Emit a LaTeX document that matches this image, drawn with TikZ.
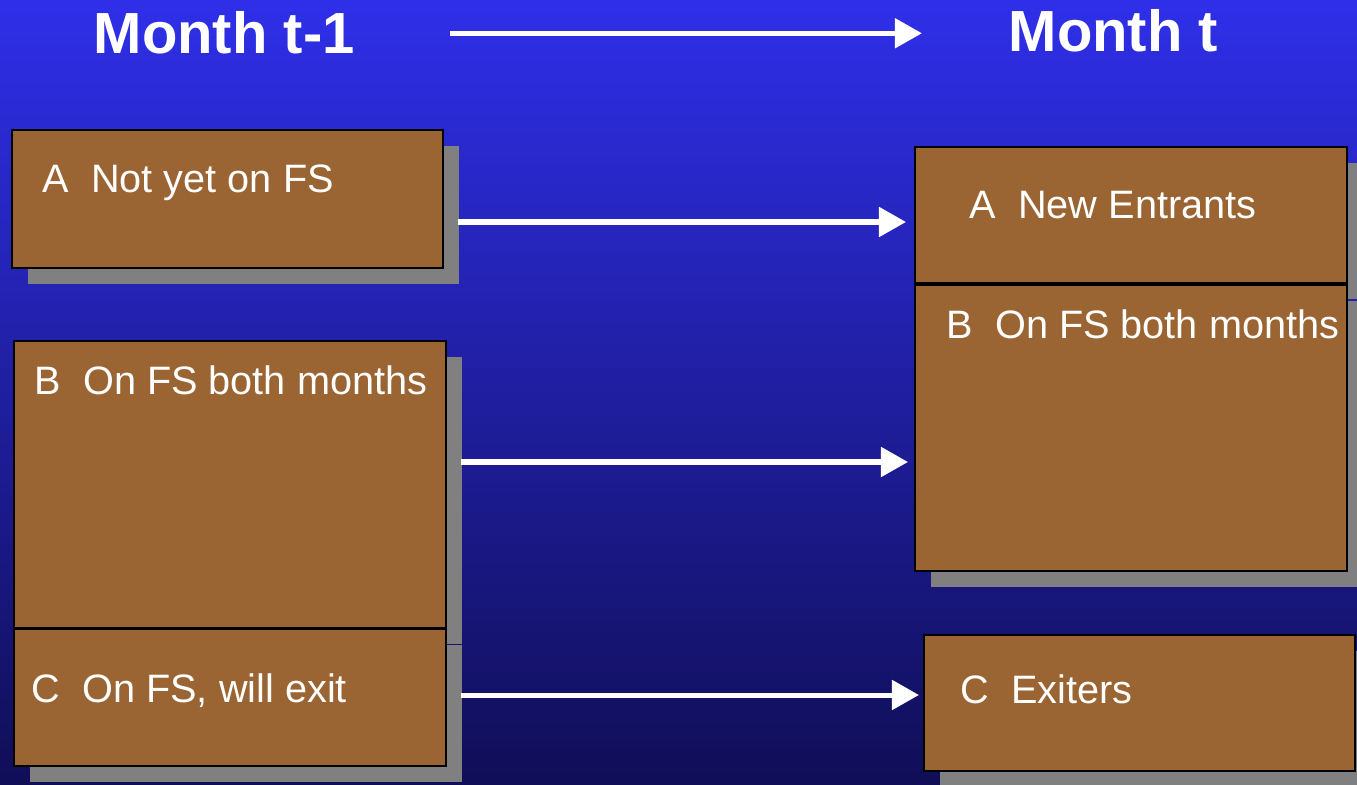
\documentclass[tikz,border=0pt]{standalone}
\usepackage{fontspec}
\setmainfont{Liberation Sans}
\usepackage{tikz}
\usetikzlibrary{calc, positioning, arrows.meta, shadows}
\definecolor{bgTop}{RGB}{47,47,233}
\definecolor{bgBottom}{RGB}{16,14,86}
\definecolor{boxBrown}{RGB}{154,100,51}
\definecolor{shadowGrey}{RGB}{128,128,128}

\begin{document}
\begin{tikzpicture}[
  x=0.01cm, y=-0.01cm,
  box/.style={draw=black, line width=0.45pt, fill=boxBrown, inner sep=0pt, anchor=north west,
    drop shadow={shadow xshift=0.16cm, shadow yshift=-0.16cm, fill=shadowGrey, opacity=1}},
  boxtext/.style={anchor=base west, inner sep=0pt, text=white, font=\fontsize{11.28}{13.5}\selectfont},
  title/.style={anchor=base west, inner sep=0pt, text=white, font=\fontsize{16.5}{19.8}\selectfont\bfseries},
  flow/.style={draw=white, line width=0.05cm, -{Triangle[length=0.27cm, width=0.29cm]}},
]
% Background: 1357 x 785 px, 1px = 0.01cm, y grows downwards
\useasboundingbox (0,0) rectangle (1357,785);
\shade[top color=bgTop, bottom color=bgBottom] (0,0) rectangle (1357,785);

% Headings
\node[title] (tL) at (93,54)   {Month t-1};
\node[title] (tR) at (1008,52) {Month t};

% Month t-1 (left column)
\node[box, minimum width=4.31cm, minimum height=1.38cm] (aL) at (11,129) {};
\node[box, minimum width=4.32cm, minimum height=2.87cm] (bL) at (13,340) {};
\node[box, minimum width=4.32cm, minimum height=1.37cm] (cL) at (13,628) {};
\node[boxtext] (aLtxt) at (42,193)  {A\ \ Not yet on FS};
\node[boxtext] (bLtxt) at (34,394)  {B\ \ On FS both months};
\node[boxtext] (cLtxt) at (31,702)  {C\ \ On FS, will exit};

% Month t (right column)
\node[box, minimum width=4.32cm, minimum height=1.36cm] (aR) at (914,146) {};
\node[box, minimum width=4.32cm, minimum height=2.86cm] (bR) at (914,284) {};
\node[box, minimum width=4.31cm, minimum height=1.36cm] (cR) at (923,634) {};
\node[boxtext] (aRtxt) at (969,219) {A\ \ New Entrants};
\node[boxtext] (bRtxt) at (946,339) {B\ \ On FS both months};
\node[boxtext] (cRtxt) at (960,703) {C\ \ Exiters};

% Arrows (start at the shadow edge)
\coordinate (aFrom) at (458,222);
\coordinate (bFrom) at (461,462);
\coordinate (cFrom) at (461,695);
\draw[flow, shorten <=0.95cm] (tL.east) -- (tL.east -| tR.west) [shorten >=0.86cm];
\draw[flow, shorten >=0.08cm] (aFrom) -- (aFrom -| aR.west);
\draw[flow, shorten >=0.06cm] (bFrom) -- (bFrom -| bR.west);
\draw[flow, shorten >=0.04cm] (cFrom) -- (cFrom -| cR.west);

\end{tikzpicture}
\end{document}
